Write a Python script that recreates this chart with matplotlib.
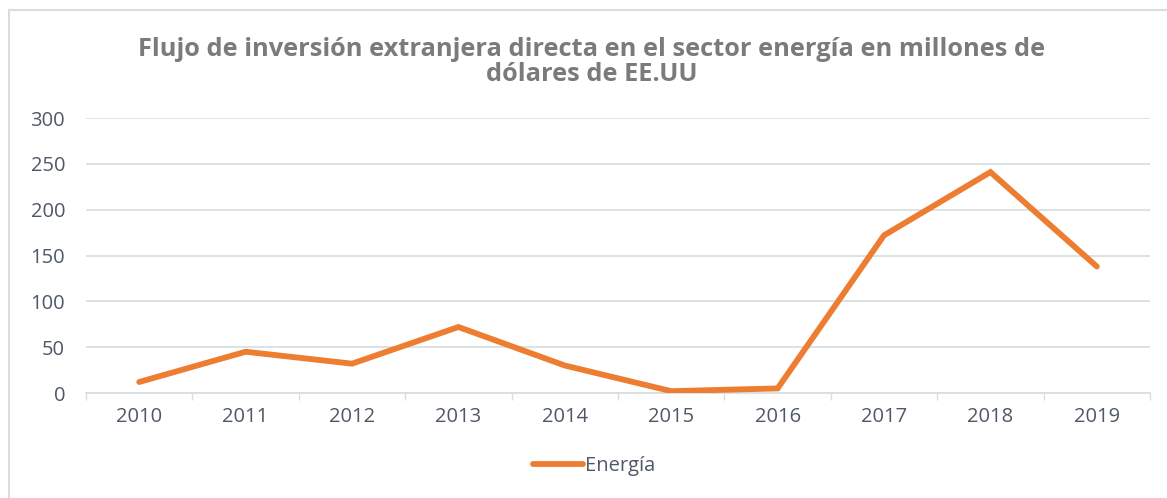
import numpy as np
import matplotlib.pyplot as plt
from matplotlib.lines import Line2D

years = ['2010', '2011', '2012', '2013', '2014', '2015', '2016', '2017', '2018', '2019']
energia = [12, 45, 32, 72, 30, 2, 5, 172, 241, 138]

orange = '#ED7D31'
grid_c = '#d6dee3'
text_c = '#4f5866'

plt.rcParams['font.family'] = ['Open Sans', 'DejaVu Sans']

fig = plt.figure(figsize=(11.67, 4.98), dpi=100)
ax = fig.add_axes([86 / 1167, 1 - 393 / 498, (1150 - 86) / 1167, (393 - 118) / 498])

x = np.arange(len(years))
ax.plot(x, energia, color=orange, lw=4.2, solid_capstyle='round', solid_joinstyle='miter',
        label='Energía', zorder=3)

ax.set_xlim(-0.5, len(years) - 0.5)
ax.set_ylim(0, 300)
ax.set_yticks(range(0, 301, 50))
ax.set_xticks(x)
ax.set_xticklabels(years)
ax.set_xticks(np.arange(-0.5, len(years)), minor=True)
ax.tick_params(axis='x', which='major', length=0, pad=10, labelsize=14.5, labelcolor=text_c)
ax.tick_params(axis='x', which='minor', length=5, width=1, color=grid_c)
ax.tick_params(axis='y', length=0, pad=15, labelsize=14.5, labelcolor=text_c)

ax.grid(axis='y', color=grid_c, lw=1.2)
ax.set_axisbelow(True)
for s in ['top', 'right', 'left']:
    ax.spines[s].set_visible(False)
ax.spines['bottom'].set_color(grid_c)
ax.spines['bottom'].set_linewidth(1.2)

fig.text(592 / 1167, 1 - 62 / 498,
         'Flujo de inversión extranjera directa en el sector energía en millones de\ndólares de EE.UU',
         ha='center', va='center', fontsize=18.3, fontweight='bold', color='#7b7b7b',
         linespacing=0.98)

leg = fig.legend(handles=[Line2D([], [], color=orange, lw=4.2, solid_capstyle='round')],
                 labels=['Energía'], loc='center', bbox_to_anchor=(594 / 1167, 1 - 466 / 498),
                 frameon=False, fontsize=14.5, handlelength=2.5, handletextpad=0.1)
for t in leg.get_texts():
    t.set_color(text_c)

# light frame round the chart
fig.add_artist(Line2D([9 / 1167, 9 / 1167], [0, 1 - 10 / 498], color=grid_c, lw=1.5))
fig.add_artist(Line2D([9 / 1167, 1], [1 - 10 / 498, 1 - 10 / 498], color=grid_c, lw=1.5))

fig.savefig('out.png', dpi=100)
